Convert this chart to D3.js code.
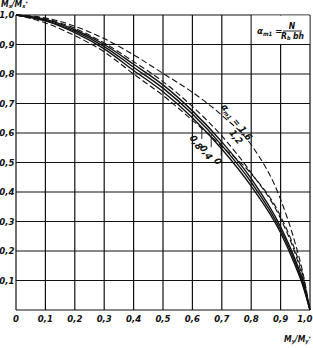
<!DOCTYPE html>
<html>
<head>
<meta charset="utf-8">
<script src="https://cdn.jsdelivr.net/npm/d3@7"></script>
<style>
  body { margin: 0; background: #fff; }
  text { font-family: "Liberation Sans Narrow", "DejaVu Sans Condensed", "Liberation Sans", sans-serif; font-style: italic; fill: #111; }
</style>
</head>
<body>
<script>
'use strict';

const WIDTH = 313;
const HEIGHT = 348;

const PLOT_LEFT = 16;
const PLOT_RIGHT = 310;
const PLOT_TOP = 15;
const PLOT_BOTTOM = 310;

const INK = '#111';

// Ticks on both axes
const TICKS = [0, 0.1, 0.2, 0.3, 0.4, 0.5, 0.6, 0.7, 0.8, 0.9, 1.0];
const X_TICK_LABELS = ['0', '0,1', '0,2', '0,3', '0,4', '0,5', '0,6', '0,7', '0,8', '0,9', '1,0'];
const Y_TICK_LABELS = ['', '0,1', '0,2', '0,3', '0,4', '0,5', '0,6', '0,7', '0,8', '0,9', '1,0'];

// My/My* sample points shared by all curves
const MY = [0, 0.1, 0.2, 0.3, 0.4, 0.5, 0.6, 0.7, 0.8, 0.9, 0.95, 0.975, 1.0];

// Mx/Mx*, one list per curve
const MX_A0 = [1, 0.985, 0.95, 0.9, 0.833, 0.763, 0.675, 0.57, 0.445, 0.282, 0.17, 0.1, 0];
const MX_A04 = [1, 0.982, 0.945, 0.893, 0.823, 0.752, 0.664, 0.558, 0.433, 0.272, 0.16, 0.09, 0];
const MX_A08 = [1, 0.98, 0.94, 0.885, 0.812, 0.74, 0.652, 0.546, 0.42, 0.262, 0.15, 0.085, 0];
const MX_A12 = [1, 0.987, 0.955, 0.905, 0.842, 0.774, 0.69, 0.59, 0.465, 0.31, 0.19, 0.11, 0];
const MX_A16 = [1, 0.99, 0.962, 0.92, 0.865, 0.802, 0.738, 0.66, 0.56, 0.375, 0.225, 0.13, 0];
const MX_EXTRA = [1, 0.973, 0.93, 0.875, 0.8, 0.727, 0.643, 0.555, 0.462, 0.318, 0.2, 0.12, 0];

const SERIES = [
    {values: MX_A0, dashed: false},
    {values: MX_A04, dashed: false},
    {values: MX_A08, dashed: false},
    {values: MX_A12, dashed: true},
    {values: MX_A16, dashed: true},
    {values: MX_EXTRA, dashed: true},
];

function main() {
    let svg = d3.select('body')
            .append('svg')
            .attr('width', WIDTH)
            .attr('height', HEIGHT);

    let x = d3.scaleLinear().domain([0, 1]).range([PLOT_LEFT, PLOT_RIGHT]);
    let y = d3.scaleLinear().domain([0, 1]).range([PLOT_BOTTOM, PLOT_TOP]);

    // Grid
    let grid = svg.append('g')
            .attr('stroke', INK)
            .attr('stroke-width', 1.2);

    grid.selectAll('.vgrid')
            .data(TICKS)
            .enter()
            .append('line')
            .attr('x1', d => x(d))
            .attr('x2', d => x(d))
            .attr('y1', y(0))
            .attr('y2', y(1));

    grid.selectAll('.hgrid')
            .data(TICKS)
            .enter()
            .append('line')
            .attr('x1', x(0))
            .attr('x2', x(1))
            .attr('y1', d => y(d))
            .attr('y2', d => y(d));

    // Formula box covers the top right cell pair
    svg.append('rect')
            .attr('x', x(0.8) + 0.6)
            .attr('y', y(1) + 0.6)
            .attr('width', x(1) - x(0.8) - 1.2)
            .attr('height', y(0.9) - y(1) - 1.2)
            .attr('fill', '#fff');

    // Tick labels
    svg.selectAll('.xlab')
            .data(TICKS)
            .enter()
            .append('text')
            .attr('x', d => d === 1 ? x(d) + 2.5 : x(d))
            .attr('y', y(0) + 12)
            .attr('text-anchor', d => d === 1 ? 'end' : 'middle')
            .style('font-size', '9.5px')
            .style('font-weight', 'bold')
            .text((d, i) => X_TICK_LABELS[i]);

    svg.selectAll('.ylab')
            .data(TICKS)
            .enter()
            .append('text')
            .attr('x', x(0) - 1.5)
            .attr('y', d => y(d) + 3)
            .attr('text-anchor', 'end')
            .style('font-size', '9.5px')
            .style('font-weight', 'bold')
            .text((d, i) => Y_TICK_LABELS[i]);

    // Curves
    let line = d3.line()
            .x((d, i) => x(MY[i]))
            .y(d => y(d))
            .curve(d3.curveMonotoneX);

    svg.selectAll('.curve')
            .data(SERIES)
            .enter()
            .append('path')
            .attr('d', d => line(d.values))
            .attr('fill', 'none')
            .attr('stroke', INK)
            .attr('stroke-width', d => d.dashed ? 1.1 : 1.4)
            .attr('stroke-dasharray', d => d.dashed ? '6,3' : null);

    // Curve labels, rotated along the lines
    function rotated(px, py, angle, size) {
        return svg.append('text')
                .attr('transform', `translate(${px},${py}) rotate(${angle})`)
                .attr('text-anchor', 'middle')
                .style('font-size', size)
                .style('font-weight', 'bold');
    }

    let a16 = rotated(x(0.742), y(0.63), 52, '9.5px');
    a16.append('tspan').text('α');
    a16.append('tspan').attr('dy', 2).style('font-size', '6px').text('m1');
    a16.append('tspan').attr('dy', -2).text(' = 1,6');

    rotated(x(0.74), y(0.58), 52, '9.5px').text('1,2');

    rotated(x(0.603), y(0.562), 58, '9.5px').text('0,8');
    rotated(x(0.637), y(0.528), 58, '9.5px').text('0,4');
    rotated(x(0.677), y(0.498), 58, '9.5px').text('0');

    // Leader ticks from labels to the solid curves
    const leaders = [[0.632, MX_A08, 0.58], [0.664, MX_A04, 0.552], [0.698, MX_A0, 0.522]];
    leaders.forEach(function(l) {
        let interp = d3.scaleLinear().domain(MY).range(l[1]);
        svg.append('line')
                .attr('x1', x(l[0]))
                .attr('x2', x(l[0]))
                .attr('y1', y(interp(l[0])))
                .attr('y2', y(l[2]))
                .attr('stroke', INK)
                .attr('stroke-width', 0.9);
    });

    // Formula
    let f = svg.append('text')
            .attr('x', 257)
            .attr('y', 34)
            .style('font-size', '9.5px')
            .style('font-weight', 'bold');
    f.append('tspan').text('α');
    f.append('tspan').attr('dy', 2).style('font-size', '6px').text('m1');
    f.append('tspan').attr('dy', -2).text(' =');

    svg.append('line')
            .attr('x1', 283).attr('x2', 302)
            .attr('y1', 31).attr('y2', 31)
            .attr('stroke', INK)
            .attr('stroke-width', 0.9);

    svg.append('text')
            .attr('x', 292).attr('y', 28.5)
            .attr('text-anchor', 'middle')
            .style('font-size', '8.5px')
            .style('font-weight', 'bold')
            .text('N');

    let den = svg.append('text')
            .attr('x', 292.5).attr('y', 38.5)
            .attr('text-anchor', 'middle')
            .style('font-size', '8.5px')
            .style('font-weight', 'bold');
    den.append('tspan').text('R');
    den.append('tspan').attr('dy', 1.5).style('font-size', '5.5px').text('b');
    den.append('tspan').attr('dy', -1.5).text(' bh');

    // Axis titles
    let ty = svg.append('text')
            .attr('x', 1).attr('y', 7)
            .style('font-size', '8.5px')
            .style('font-weight', 'bold');
    ty.append('tspan').text('M');
    ty.append('tspan').attr('dy', 1.2).style('font-size', '5.5px').text('x');
    ty.append('tspan').attr('dy', -1.2).text('/M');
    ty.append('tspan').attr('dy', 1.2).style('font-size', '5.5px').text('x');
    ty.append('tspan').attr('dy', -3.2).style('font-size', '5px').text('*');

    let tx = svg.append('text')
            .attr('x', 284).attr('y', 342)
            .style('font-size', '8.5px')
            .style('font-weight', 'bold');
    tx.append('tspan').text('M');
    tx.append('tspan').attr('dy', 1.2).style('font-size', '5.5px').text('y');
    tx.append('tspan').attr('dy', -1.2).text('/M');
    tx.append('tspan').attr('dy', 1.2).style('font-size', '5.5px').text('y');
    tx.append('tspan').attr('dy', -3.2).style('font-size', '5px').text('*');
}

document.addEventListener('DOMContentLoaded', function() {
    main();
});
</script>
</body>
</html>
